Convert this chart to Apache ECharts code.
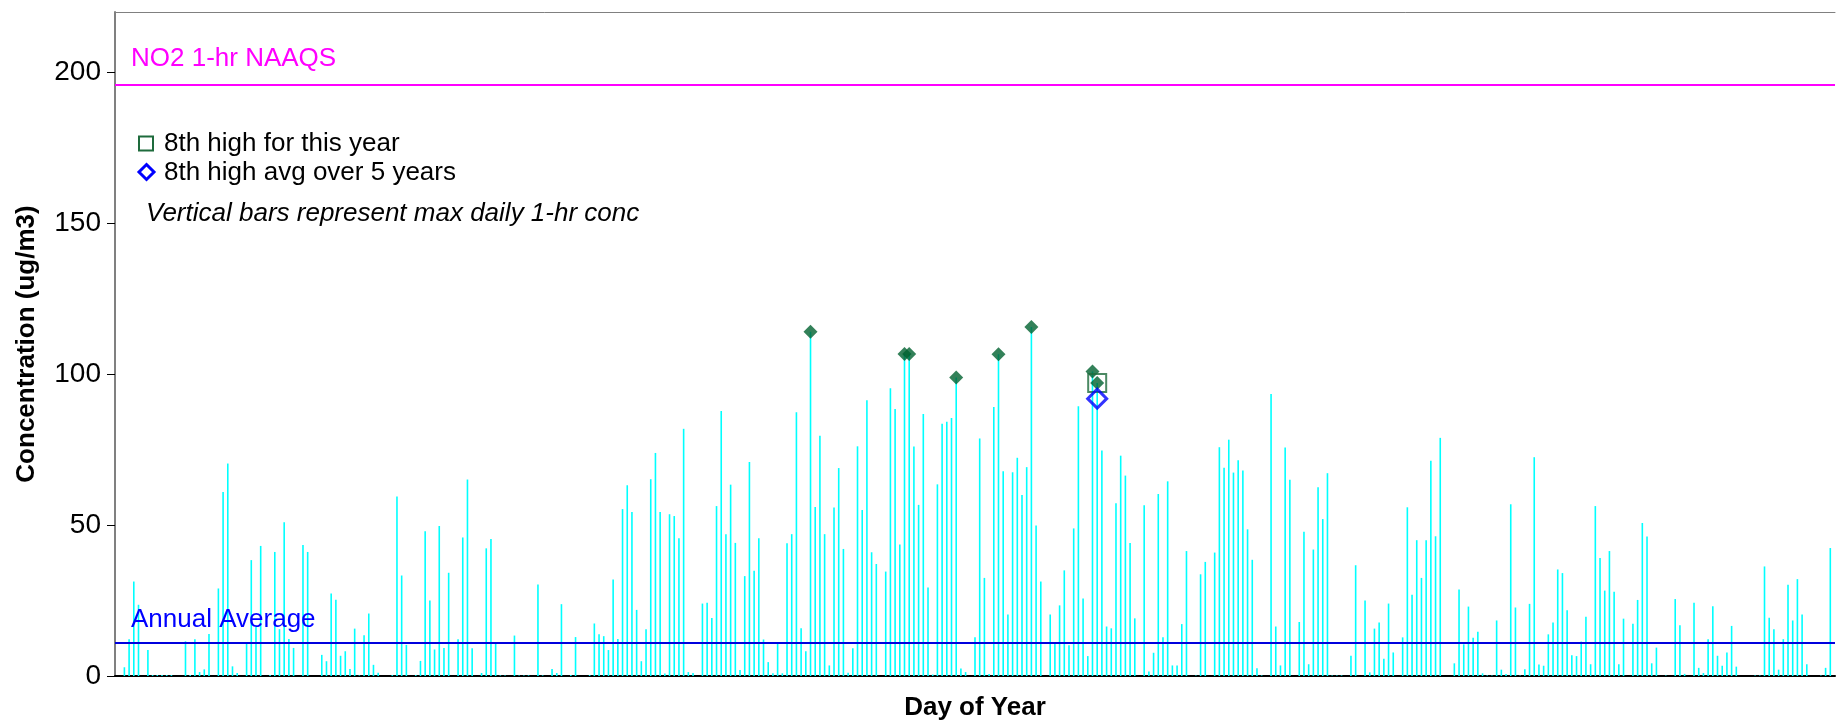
<!DOCTYPE html>
<html><head><meta charset="utf-8">
<script src="https://cdn.jsdelivr.net/npm/echarts@6/dist/echarts.min.js"></script>
<style>html,body{margin:0;padding:0;background:#fff}#c{width:1841px;height:722px}</style>
</head><body><div id="c"></div>
<script>
// Max daily 1-hr NO2 concentration (ug/m3), day 1..365
const dailyMax = [
  0, 2.9, 12.2, 31.3, 23.6, 0, 8.6, 0.3, 0.3, 0.3,
  0.3, 0.3, 0, 0, 11.5, 0.3, 12.2, 1.3, 2.2, 13.9,
  0, 29.0, 61.0, 70.4, 3.2, 1.0, 0, 10.6, 38.4, 16.2,
  43.1, 0, 0.3, 41.1, 15.5, 50.9, 12.3, 9.3, 0, 43.4,
  41.1, 0, 0, 7.0, 4.9, 27.3, 25.3, 6.7, 8.2, 2.3,
  15.7, 0.2, 13.5, 20.7, 3.7, 1.1, 0, 0, 0.3, 59.5,
  33.3, 10.3, 0, 0.3, 5.0, 48.0, 25.0, 8.8, 49.7, 9.3,
  34.2, 0, 12.2, 45.9, 65.1, 9.2, 0, 1.0, 42.3, 45.4,
  10.7, 0.2, 0.2, 0, 13.4, 0.2, 0.2, 0.2, 0, 30.3,
  0.2, 0, 2.3, 1.0, 23.8, 0, 0.3, 12.9, 0, 0,
  0.3, 17.4, 13.8, 13.2, 8.6, 32.0, 12.3, 55.3, 63.2, 54.3,
  21.9, 4.9, 15.5, 65.2, 73.9, 54.3, 0.8, 53.6, 53.0, 45.6,
  81.9, 1.3, 1.0, 0, 24.0, 24.3, 19.2, 56.3, 87.8, 47.0,
  63.4, 44.1, 2.0, 33.1, 70.9, 34.9, 45.6, 12.1, 4.6, 0.9,
  11.0, 0.9, 44.0, 47.0, 87.4, 15.8, 8.2, 114.1, 56.0, 79.6,
  47.0, 3.5, 55.8, 68.9, 42.1, 1.1, 9.2, 76.1, 55.0, 91.4,
  41.0, 37.1, 0, 34.6, 95.3, 88.5, 43.6, 106.7, 106.7, 76.0,
  56.7, 86.8, 29.3, 0.5, 63.5, 83.6, 84.2, 85.5, 98.9, 2.5,
  1.3, 0, 12.8, 78.7, 32.5, 0.7, 89.1, 106.6, 67.8, 20.4,
  67.5, 72.3, 60.0, 69.2, 115.6, 49.9, 31.3, 0, 20.4, 10.7,
  23.4, 35.0, 10.2, 48.9, 89.4, 25.7, 6.6, 100.9, 97.1, 74.7,
  16.4, 15.8, 57.2, 73.0, 66.4, 44.1, 19.1, 0, 56.6, 1.5,
  7.7, 60.3, 12.8, 64.5, 3.5, 3.5, 17.2, 41.4, 0, 0.2,
  33.7, 37.8, 0, 40.9, 75.8, 69.0, 78.3, 67.4, 71.5, 68.1,
  48.6, 38.5, 2.6, 0.2, 0, 93.4, 16.4, 3.5, 75.7, 65.0,
  0, 17.9, 47.8, 3.9, 41.9, 62.5, 52.0, 67.2, 0.2, 0.2,
  0.2, 0, 6.7, 36.7, 0, 25.0, 1.2, 15.7, 17.7, 5.7,
  24.0, 7.8, 0, 12.8, 55.9, 26.9, 45.0, 32.5, 45.0, 71.3,
  46.3, 78.9, 0, 0, 4.2, 28.7, 10.5, 23.0, 12.7, 14.7,
  0.9, 0.2, 0.2, 18.4, 2.1, 0.7, 56.9, 22.7, 0.2, 2.2,
  23.9, 72.5, 3.8, 3.4, 13.8, 17.7, 35.3, 34.1, 21.8, 6.9,
  6.6, 11.4, 19.6, 3.9, 56.3, 39.1, 28.3, 41.4, 27.9, 3.9,
  19.0, 0, 17.3, 25.2, 50.7, 46.2, 4.2, 9.4, 0, 0.2,
  0, 25.5, 16.8, 0.7, 0, 24.3, 2.7, 1.0, 12.2, 23.1,
  6.7, 3.4, 7.8, 16.6, 3.1, 0, 0, 0, 0.2, 0.2,
  36.3, 19.3, 15.5, 2.1, 12.2, 30.2, 18.4, 32.1, 20.4, 3.9,
  0, 0, 0.2, 2.7, 42.4
];
const days = dailyMax.map((v, i) => i + 1);
const naaqs = 196;
const annualAverage = 11.1;
const eighthHighAvg5yr = 91.9;
const yTickValues = [0, 50, 100, 150, 200];
const rankCount = 8;

const FONT = 'Liberation Sans, Arial, sans-serif';

// top N daily maxima
const ranked = days.map((d, i) => [d, dailyMax[i]]).sort((a, b) => b[1] - a[1]);
const topN = ranked.slice(0, rankCount);
const eighth = topN[rankCount - 1];

const chart = echarts.init(document.getElementById('c'), null, {renderer: 'canvas'});

const option = {
  animation: false,
  backgroundColor: '#ffffff',
  grid: {left: 115, right: 6, top: 12, bottom: 46, containLabel: false, outerBoundsMode: 'none'},
  xAxis: [{
    type: 'value', min: 0, max: 366, position: 'bottom',
    axisLine: {show: true, lineStyle: {color: '#000000', width: 2}},
    axisTick: {show: false}, axisLabel: {show: false}, splitLine: {show: false},
    name: 'Day of Year', nameLocation: 'middle', nameGap: 19,
    nameTextStyle: {fontFamily: FONT, fontSize: 26, fontWeight: 'bold', color: '#000', verticalAlign: 'top'}
  }, {
    type: 'value', min: 0, max: 366, position: 'top',
    axisLine: {show: true, lineStyle: {color: '#808080', width: 1}},
    axisTick: {show: false}, axisLabel: {show: false}, splitLine: {show: false}
  }],
  yAxis: {
    type: 'value', min: 0, max: 220, interval: 50,
    axisLine: {show: true, lineStyle: {color: '#808080', width: 2}},
    axisTick: {show: true, length: 8, lineStyle: {color: '#000', width: 1}, customValues: yTickValues},
    axisLabel: {fontFamily: FONT, fontSize: 28, color: '#000', margin: 14, customValues: yTickValues},
    splitLine: {show: false},
    name: 'Concentration (ug/m3)', nameLocation: 'middle', nameGap: 75,
    nameTextStyle: {fontFamily: FONT, fontSize: 26, fontWeight: 'bold', color: '#000'}
  },
  series: [{
    type: 'bar', name: 'Daily max 1-hr', barWidth: 1.6, z: 2,
    itemStyle: {color: '#00FFFF'},
    data: days.map((d, i) => [d, dailyMax[i]]),
    markLine: {
      silent: true, symbol: 'none', z: 3,
      label: {show: false},
      data: [
        {yAxis: naaqs, lineStyle: {color: '#FF00FF', width: 2, type: 'solid'}},
        {yAxis: annualAverage, lineStyle: {color: '#0000DD', width: 2, type: 'solid'}}
      ]
    }
  }, {
    type: 'scatter', name: 'Top daily maxima', z: 5,
    symbol: 'diamond', symbolSize: 14,
    itemStyle: {color: '#00612F'},
    data: topN
  }, {
    type: 'scatter', name: '8th high for this year', z: 6,
    symbol: 'rect', symbolSize: 18,
    itemStyle: {color: 'rgba(0,0,0,0)', borderColor: '#1E6B3C', borderWidth: 2},
    data: [eighth]
  }, {
    type: 'scatter', name: '8th high avg over 5 years', z: 6,
    symbol: 'diamond', symbolSize: [19, 19],
    itemStyle: {color: 'rgba(0,0,0,0)', borderColor: '#0000FF', borderWidth: 3},
    data: [[eighth[0], eighthHighAvg5yr]]
  }]
};
chart.setOption(option);

const yNaaqs = chart.convertToPixel({yAxisIndex: 0}, naaqs);
const yAvg = chart.convertToPixel({yAxisIndex: 0}, annualAverage);

chart.setOption({
  graphic: [
    {type: 'text', left: 131, top: yNaaqs - 39, z: 10,
     style: {text: 'NO2 1-hr NAAQS', fill: '#FF00FF', font: '26px ' + FONT}},
    {type: 'text', left: 131, top: yAvg - 36, z: 10,
     style: {text: 'Annual Average', fill: '#0000FF', font: '26px ' + FONT}},
    {type: 'rect', z: 10, shape: {x: 139, y: 136.5, width: 14, height: 14},
     style: {fill: 'none', stroke: '#1E6B3C', lineWidth: 2}},
    {type: 'text', left: 164, top: 130.5, z: 10,
     style: {text: '8th high for this year', fill: '#000', font: '26px ' + FONT}},
    {type: 'polygon', z: 10, shape: {points: [[146.5, 164.5], [154, 172], [146.5, 179.5], [139, 172]]},
     style: {fill: '#ffffff', stroke: '#0000FF', lineWidth: 3}},
    {type: 'text', left: 164, top: 159.5, z: 10,
     style: {text: '8th high avg over 5 years', fill: '#000', font: '26px ' + FONT}},
    {type: 'text', left: 146, top: 200.5, z: 10,
     style: {text: 'Vertical bars represent max daily 1-hr conc', fill: '#000', font: 'italic 26px ' + FONT}}
  ]
});
</script></body></html>
